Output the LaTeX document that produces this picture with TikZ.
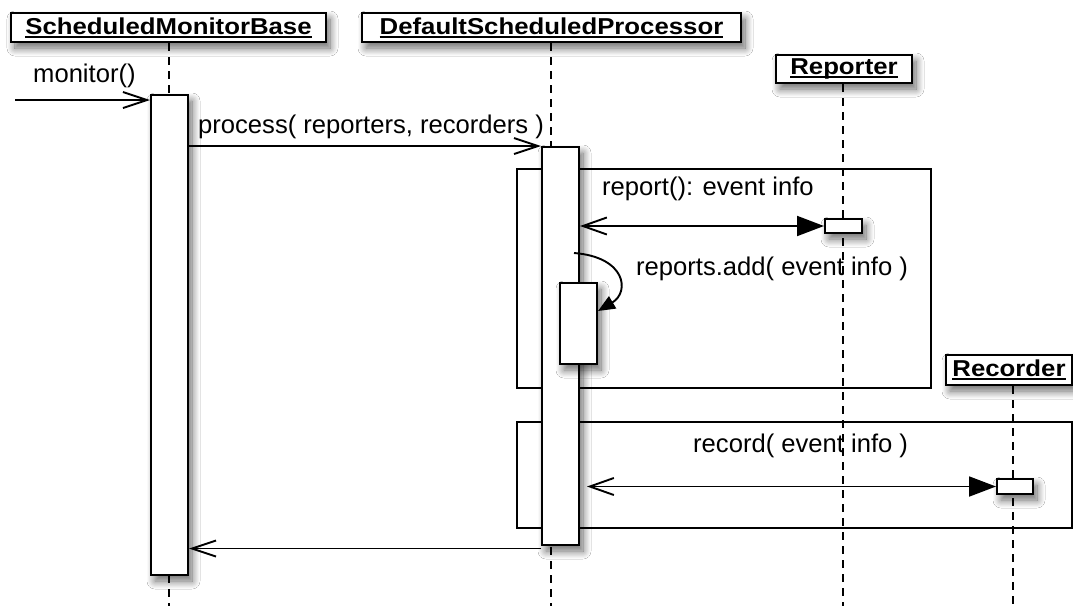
\documentclass[tikz,border=0pt]{standalone}
\usepackage{fontspec}
\setmainfont{Liberation Sans}
\newfontfamily\headfont{Liberation Sans}[FakeStretch=1.12]
\usetikzlibrary{arrows.meta,shadows.blur}

% underlined object name with a thick rule just below the baseline
\newcommand\objname[1]{\setbox0\hbox{#1}\rlap{\rule[-3.5pt]{\wd0}{1.8pt}}\box0}

\tikzset{
  msgfont/.style={font=\fontsize{25.6}{30}\selectfont},
  softshadow/.style={blur shadow={shadow xshift=4pt, shadow yshift=-6pt,
      shadow blur radius=8pt, shadow blur steps=12, shadow opacity=60}},
  header/.style={draw, line width=2pt, fill=white, inner sep=0pt,
      font=\headfont\bfseries\fontsize{23}{27}\selectfont, softshadow},
  activation/.style={draw, line width=2pt, fill=white, inner sep=0pt, softshadow},
  lifeline/.style={line width=1.9pt, dash pattern=on 8pt off 6pt},
  fragment/.style={draw, line width=1.7pt},
  call/.style={line width=1.9pt, -{Straight Barb[length=24pt,width=16pt]}},
  reply/.style={line width=1.9pt, {Straight Barb[length=24pt,width=17pt]}-{Triangle[length=27pt,width=20pt]}},
  selfcall/.style={line width=1.9pt, -{Triangle[length=17pt,width=14pt]}},
  label/.style={msgfont, inner sep=0pt, anchor=west},
}

\begin{document}
\begin{tikzpicture}[x=1pt,y=-1pt]
\useasboundingbox (0,0) rectangle (1073,606);
\fill[white] (0,0) rectangle (1073,606);

% combined fragments
\draw[fragment, fill=white] (517,169) rectangle (931,388);
\draw[fragment, fill=white] (517,422) rectangle (1072,528);

% object headers
\node[header, minimum width=315pt, minimum height=29pt] (smb) at (168.5,27.5) {\objname{ScheduledMonitorBase}};
\node[header, minimum width=379pt, minimum height=29pt] (dsp) at (551.5,27.5) {\objname{DefaultScheduledProcessor}};
\node[header, minimum width=136pt, minimum height=28pt] (rep) at (844,69) {\objname{Reporter}};
\node[header, minimum width=126pt, minimum height=30pt] (rec) at (1009,370) {\objname{Recorder}};

% lifelines
\coordinate (smbend) at (169,606);
\coordinate (dspend) at (551,606);
\coordinate (rependd) at (843,606);
\coordinate (recend) at (1013,606);
\draw[lifeline] (smb.south -| smbend) -- (smbend);
\draw[lifeline] (dsp.south -| dspend) -- (dspend);
\draw[lifeline] (rep.south -| rependd) -- (rependd);
\draw[lifeline] (rec.south -| recend) -- (recend);

% activation bars
\node[activation, minimum width=37pt, minimum height=480pt] (act1) at (169.5,335) {};
\node[activation, minimum width=37pt, minimum height=398pt] (act2) at (560.5,346) {};
\node[activation, minimum width=37pt, minimum height=81pt] (act3) at (578.5,323.5) {};
\node[activation, minimum width=37pt, minimum height=14pt] (act4) at (843.5,226) {};
\node[activation, minimum width=36pt, minimum height=15pt] (act5) at (1015,486.5) {};

% monitor()
\coordinate (mstart) at (15,100);
\draw[call] (mstart) -- (mstart -| act1.west);
\node[label] (lmon) at (33,76) {monitor()};

% process( reporters, recorders )
\draw[call] (act1.east |- act2.north west) -- (act2.north west);
\node[label] (lproc) at (198,127) {process( reporters, recorders )};

% report(): event info
\draw[reply] (act4.west -| act2.east) -- (act4.west);
\node[label] (lrep) at (602,189) {report(): event info};

% reports.add( event info )
\coordinate (sc1) at (574,253);
\coordinate (sc2) at (598,311);
\draw[selfcall] (sc1) .. controls (626,257) and (630,292) .. (sc2);
\node[label] (ladd) at (636,269) {reports.add( event info )};

% record( event info )
\draw[reply] ([xshift=7pt]act5.west -| act2.east) -- (act5.west);
\node[label] (lrec) at (693,446) {record( event info )};

% return to the caller
\draw[call] ([yshift=-2.5pt]act2.south west) -- ([yshift=-2.5pt]act2.south west -| act1.east);
\end{tikzpicture}
\end{document}
